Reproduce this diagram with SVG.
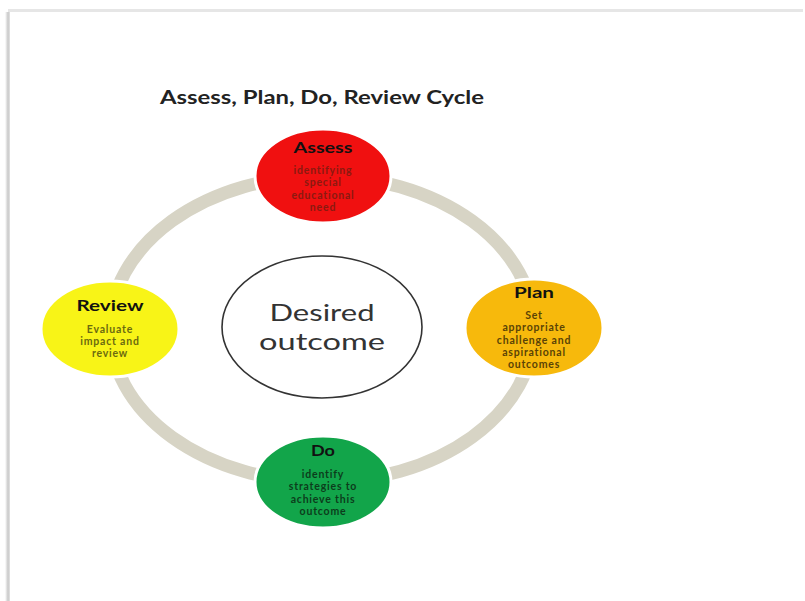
<svg xmlns="http://www.w3.org/2000/svg" width="805" height="601" viewBox="0 0 805 601">
<defs>
<linearGradient id="lshadow" x1="0" x2="1" y1="0" y2="0">
<stop offset="0" stop-color="#ffffff"/>
<stop offset="0.5" stop-color="#c8c8c8"/>
<stop offset="1" stop-color="#f2f2f2"/>
</linearGradient>
</defs>
<style>
.ring{fill:none;stroke:#d7d4c5;stroke-width:13}
.node{stroke:#ffffff;stroke-width:3}
.t{font-family:Lato,"Liberation Sans",sans-serif;font-weight:bold;text-anchor:middle}
.h{font-size:15px;fill:#111111}
.s{font-size:10.5px;letter-spacing:0.8px}
</style>
<rect x="0" y="0" width="805" height="601" fill="#ffffff"/>
<rect x="5" y="12" width="6" height="589" fill="url(#lshadow)"/>
<rect x="8" y="9" width="795" height="3" fill="#e6e6e6"/>
<rect x="10" y="12" width="793" height="589" fill="#ffffff"/>
<text class="t" x="322" y="104" font-size="18" fill="#222222" textLength="324" lengthAdjust="spacingAndGlyphs">Assess, Plan, Do, Review Cycle</text>
<g id="connectors">
<path class="ring" d="M322,176 A212,153 0 0 1 534,329"/>
<path class="ring" d="M534,329 A212,153 0 0 1 322,482"/>
<path class="ring" d="M322,482 A212,153 0 0 1 110,329"/>
<path class="ring" d="M110,329 A212,153 0 0 1 322,176"/>
</g>
<g id="desired">
<ellipse cx="322" cy="327" rx="100" ry="71" fill="#ffffff" stroke="#333333" stroke-width="1.6"/>
<text x="322" y="321" font-family="Lato,'Liberation Sans',sans-serif" font-size="24" fill="#333333" text-anchor="middle" textLength="105" lengthAdjust="spacingAndGlyphs">Desired</text>
<text x="322" y="350" font-family="Lato,'Liberation Sans',sans-serif" font-size="24" fill="#333333" text-anchor="middle" textLength="126" lengthAdjust="spacingAndGlyphs">outcome</text>
</g>
<g id="assess">
<ellipse class="node" cx="323" cy="176" rx="68" ry="47" fill="#f01010"/>
<text class="t h" x="323" y="153" textLength="59" lengthAdjust="spacingAndGlyphs">Assess</text>
<text class="t s" fill="#8a1a10"><tspan x="323" y="174">identifying</tspan><tspan x="323" y="186">special</tspan><tspan x="323" y="199">educational</tspan><tspan x="323" y="211">need</tspan></text>
</g>
<g id="plan">
<ellipse class="node" cx="534" cy="328" rx="69" ry="49" fill="#f7b90c"/>
<text class="t h" x="534" y="298" textLength="40" lengthAdjust="spacingAndGlyphs">Plan</text>
<text class="t s" fill="#5a4306"><tspan x="534" y="319">Set</tspan><tspan x="534" y="331">appropriate</tspan><tspan x="534" y="344">challenge and</tspan><tspan x="534" y="356">aspirational</tspan><tspan x="534" y="368">outcomes</tspan></text>
</g>
<g id="review">
<ellipse class="node" cx="110" cy="329" rx="69" ry="48" fill="#f8f417"/>
<text class="t h" x="110" y="311" textLength="67" lengthAdjust="spacingAndGlyphs">Review</text>
<text class="t s" fill="#6b6a10"><tspan x="110" y="333">Evaluate</tspan><tspan x="110" y="345">impact and</tspan><tspan x="110" y="357">review</tspan></text>
</g>
<g id="do">
<ellipse class="node" cx="323" cy="482" rx="68" ry="46" fill="#12a54a"/>
<text class="t h" x="323" y="456" textLength="24" lengthAdjust="spacingAndGlyphs">Do</text>
<text class="t s" fill="#0c3d1c"><tspan x="323" y="478">identify</tspan><tspan x="323" y="490">strategies to</tspan><tspan x="323" y="503">achieve this</tspan><tspan x="323" y="515">outcome</tspan></text>
</g>
</svg>
